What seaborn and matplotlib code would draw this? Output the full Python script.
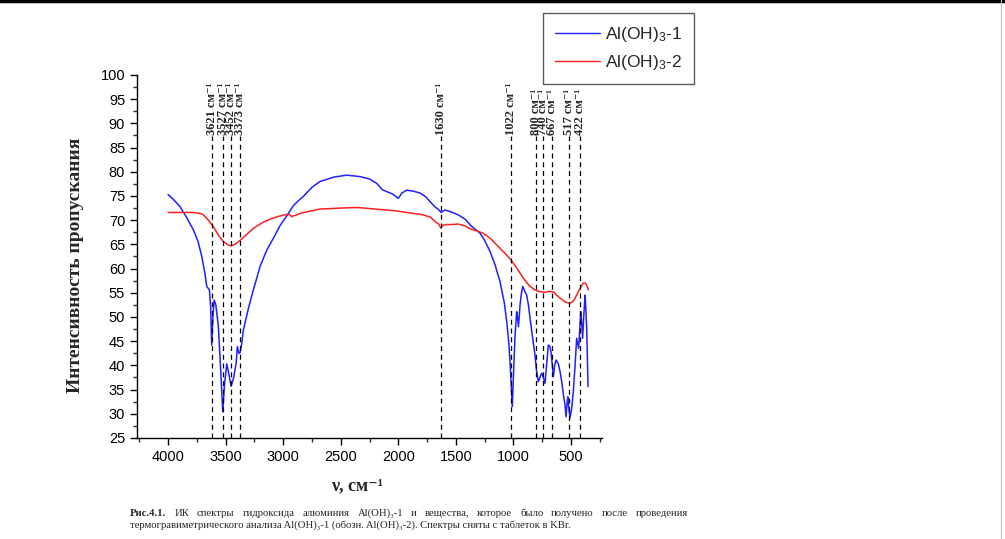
import matplotlib
matplotlib.use('Agg')
import matplotlib.pyplot as plt
from matplotlib.ticker import MultipleLocator
from matplotlib.lines import Line2D
import seaborn as sns
import pandas as pd

# ИК спектры: волновое число (см-1) и пропускание (%)
wn_1 = [4000, 3950, 3896, 3840, 3780, 3740, 3707, 3680, 3664, 3641, 3630, 3621,
        3610, 3600, 3585, 3563, 3545, 3525, 3510, 3490, 3470, 3453, 3430, 3409,
        3398, 3385, 3375, 3360, 3346, 3300, 3259, 3200, 3143, 3080, 3027, 2960,
        2912, 2860, 2825, 2750, 2680, 2560, 2448, 2332, 2250, 2187, 2140, 2101,
        2050, 2000, 1970, 1927, 1870, 1811, 1760, 1724, 1680, 1650, 1630, 1594,
        1540, 1479, 1420, 1362, 1290, 1250, 1203, 1160, 1117, 1080, 1058, 1040,
        1030, 1018, 1010, 1000, 986, 972, 965, 957, 950, 943, 930, 920, 910, 900,
        885, 870, 856, 835, 813, 800, 784, 770, 755, 740, 726, 712, 697, 685, 674,
        663, 653, 642, 630, 610, 595, 580, 566, 553, 543, 535, 528, 518, 509, 495,
        480, 465, 451, 442, 434, 425, 416, 408, 399, 390, 378, 372, 364, 358, 352]
tr_1 = [75.3, 74.2, 72.8, 70.6, 68.0, 65.6, 62.5, 59.0, 56.3, 55.6, 52.0, 44.2,
        50.0, 53.5, 52.5, 48.0, 40.0, 30.4, 36.0, 40.3, 38.0, 35.7, 37.5, 40.4,
        43.9, 42.5, 42.6, 44.5, 47.3, 52.0, 55.6, 60.5, 63.8, 66.5, 68.9, 71.2,
        73.0, 74.2, 74.9, 76.8, 78.0, 78.9, 79.3, 79.0, 78.5, 77.6, 76.3, 75.9,
        75.4, 74.5, 75.6, 76.2, 76.0, 75.6, 74.8, 73.8, 72.7, 72.2, 71.6, 72.1,
        71.7, 71.1, 70.2, 68.7, 67.3, 65.8, 63.5, 60.8, 57.3, 53.0, 49.0, 44.5,
        40.8, 35.0, 31.5, 38.0, 46.3, 51.1, 50.0, 48.0, 50.0, 52.5, 55.0, 56.3,
        55.8, 55.2, 54.5, 52.5, 49.7, 46.0, 42.1, 39.0, 36.6, 37.5, 38.4, 37.5,
        36.3, 40.0, 44.2, 44.0, 42.8, 40.0, 37.7, 40.0, 41.1, 40.3, 38.7, 36.5,
        33.9, 32.0, 29.4, 32.0, 33.5, 31.0, 29.1, 31.0, 34.6, 40.0, 45.6, 44.5,
        43.5, 47.0, 51.1, 49.0, 45.6, 50.0, 54.5, 52.0, 47.7, 42.0, 35.6]

wn_2 = [4000, 3900, 3780, 3720, 3693, 3650, 3607, 3560, 3520, 3480, 3453, 3420,
        3375, 3320, 3259, 3180, 3114, 3040, 2969, 2940, 2926, 2910, 2880, 2854,
        2760, 2680, 2500, 2400, 2347, 2200, 2014, 1900, 1783, 1720, 1681, 1650,
        1631, 1610, 1580, 1540, 1479, 1420, 1377, 1320, 1262, 1200, 1146, 1080,
        1022, 960, 914, 860, 820, 798, 760, 726, 690, 653, 625, 595, 550, 509,
        480, 451, 420, 393, 375, 364, 350]
tr_2 = [71.6, 71.6, 71.6, 71.4, 71.1, 70.0, 68.7, 66.8, 65.6, 64.9, 64.7, 65.0,
        65.8, 67.0, 68.3, 69.5, 70.2, 70.8, 71.2, 71.1, 70.7, 70.9, 71.1, 71.4,
        71.9, 72.3, 72.5, 72.6, 72.6, 72.3, 71.9, 71.5, 71.1, 70.6, 69.7, 69.2,
        68.4, 69.0, 69.1, 69.1, 69.2, 68.8, 68.2, 67.8, 67.3, 66.2, 64.9, 63.3,
        61.8, 59.7, 58.0, 56.4, 55.7, 55.4, 55.2, 55.1, 55.3, 55.2, 54.5, 53.9,
        53.1, 52.8, 53.3, 54.5, 56.0, 57.0, 57.0, 56.6, 55.6]

peaks_left = [3621, 3527, 3452, 3373, 1630, 1022]
peaks_right = [800, 740, 667, 517, 422]
series_names = ['Al(OH)$_3$-1', 'Al(OH)$_3$-2']

df = pd.concat([
    pd.DataFrame({'wn': wn_1, 'tr': tr_1, 'sample': series_names[0]}),
    pd.DataFrame({'wn': wn_2, 'tr': tr_2, 'sample': series_names[1]}),
])

sns.set_style('ticks')
plt.rcParams['font.family'] = ['Liberation Sans', 'DejaVu Sans']
plt.rcParams['mathtext.fontset'] = 'custom'
plt.rcParams['mathtext.rm'] = 'Liberation Sans'
plt.rcParams['mathtext.it'] = 'Liberation Sans'
SERIF = ['Liberation Serif', 'DejaVu Serif']

fig = plt.figure(figsize=(10.05, 5.39), dpi=100)
ax = fig.add_axes([0.1363, 0.1874, 0.4627, 0.6735])

sns.lineplot(data=df, x='wn', y='tr', hue='sample', palette=['#2020ff', '#ff2020'],
             linewidth=1.1, sort=False, estimator=None, legend=False, ax=ax)

# пунктирные линии полос поглощения
for v in peaks_left + peaks_right:
    ax.plot([v, v], [25, 87.4], color='black', linestyle=(0, (4, 3)), linewidth=0.9)
    ax.text(v, 87.6, f'{v} см⁻¹', rotation=90, ha='center', va='bottom',
            fontsize=9, fontweight='bold', family=SERIF, linespacing=1.0)

ax.set_xlim(4270, 231)
ax.set_ylim(25, 100)
ax.xaxis.set_major_locator(MultipleLocator(500))
ax.xaxis.set_minor_locator(MultipleLocator(250))
ax.yaxis.set_major_locator(MultipleLocator(5))
ax.yaxis.set_minor_locator(MultipleLocator(2.5))
ax.tick_params(which='major', direction='out', length=5, width=1, labelsize=10.5, colors='black')
ax.tick_params(which='minor', direction='out', length=3, width=1)
ax.set_xlabel('')
ax.set_ylabel('')
for s in ['top', 'right']:
    ax.spines[s].set_visible(False)
for s in ['left', 'bottom']:
    ax.spines[s].set_linewidth(1)
    ax.spines[s].set_color('black')

fig.text(75 / 1005, 1 - 265 / 539, 'Интенсивность пропускания', rotation=90,
         ha='center', va='center', fontsize=14, fontweight='bold', family=SERIF)
fig.text(357 / 1005, 1 - 486 / 539, 'ν, см⁻¹', ha='center', va='center',
         fontsize=13, fontweight='bold', family=SERIF)

handles = [Line2D([], [], color='#2020ff', linewidth=1),
           Line2D([], [], color='#ff2020', linewidth=1)]
leg = fig.legend(handles, series_names, loc='upper left', bbox_to_anchor=(0.540, 0.976),
                 fontsize=12.5, frameon=True, fancybox=False, handlelength=2.6,
                 borderpad=0.7, labelspacing=0.5, handletextpad=0.3, borderaxespad=0)
leg.get_frame().set_edgecolor('#333333')
leg.get_frame().set_linewidth(1)

# рамка страницы
fig.add_artist(Line2D([0, 1], [0.998, 0.998], color='black', linewidth=2.5,
                      transform=fig.transFigure))
fig.add_artist(Line2D([0.9965, 0.9965], [0, 1], color='#bbbbbb', linewidth=0.8,
                      transform=fig.transFigure))

# подпись с выравниванием по ширине
renderer = fig.canvas.get_renderer()


def justify_line(words, x0, x1, y, size):
    items = []
    for i, w in enumerate(words):
        weight = 'bold' if w.startswith('Рис') else 'normal'
        t = fig.text(0, y, w, fontsize=size, fontweight=weight, family=SERIF, va='baseline')
        items.append(t)
    widths = [t.get_window_extent(renderer).width / fig.bbox.width for t in items]
    gap = (x1 - x0 - sum(widths)) / (len(items) - 1)
    x = x0
    for t, w in zip(items, widths):
        t.set_x(x)
        x += w + gap


cap1 = 'Рис.4.1. ИК спектры гидроксида алюминия Al(OH)₃-1 и вещества, которое было получено после проведения'
cap2 = 'термогравиметрического анализа Al(OH)₃-1 (обозн. Al(OH)₃-2). Спектры сняты с таблеток в KBr.'
justify_line(cap1.split(), 130 / 1005, 688 / 1005, 1 - 516 / 539, 7.7)
fig.text(130 / 1005, 1 - 528 / 539, cap2, fontsize=7.7, family=SERIF, va='baseline')

fig.savefig('out.png', dpi=100)
